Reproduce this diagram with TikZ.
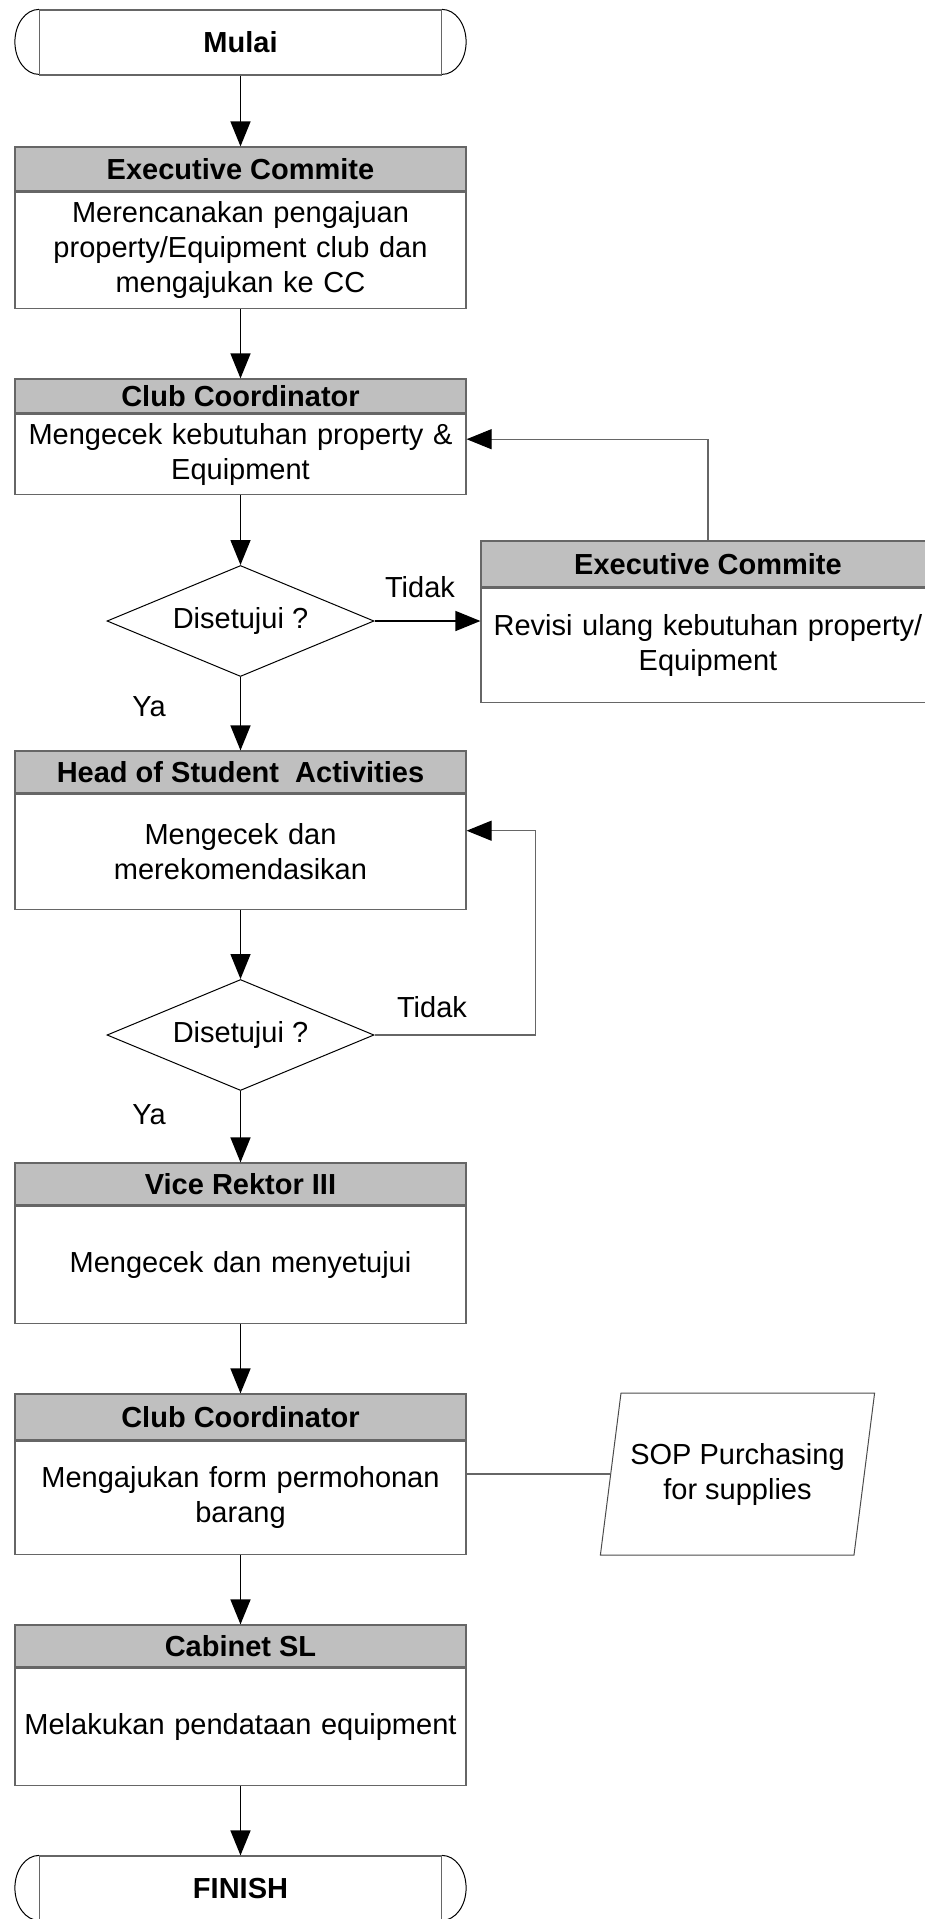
\documentclass[tikz,border=0pt]{standalone}
\usepackage{fontspec}
\setmainfont{Liberation Sans}
\usetikzlibrary{shapes.geometric,arrows.meta,positioning}

\newcommand\chartfont{\fontsize{29}{35}\selectfont}

\tikzset{
  every node/.style={font=\chartfont},
  hdr/.style={draw=black!60, fill=black!25, line width=1.2pt,
    minimum width=451pt, inner sep=0pt, font=\chartfont\bfseries},
  bodybox/.style={draw=black!60, line width=1.2pt, minimum width=451pt,
    text width=451pt, align=center, inner sep=0pt},
  term/.style={draw=black!60, line width=1.2pt, minimum width=402pt,
    minimum height=65pt, font=\chartfont\bfseries},
  termend/.style={draw=black, line width=1pt},
  decision/.style={diamond, draw, line width=1pt, aspect=2.4,
    minimum width=267pt, minimum height=111pt, inner sep=1pt},
  docin/.style={trapezium, draw=black!70, line width=1pt,
    trapezium left angle=73, trapezium right angle=107,
    trapezium stretches=true, minimum width=275pt, minimum height=162pt,
    align=center, inner sep=0pt},
  flow/.style={-{Triangle[length=25pt,width=20pt]}, line width=1.5pt},
  back/.style={-{Triangle[length=25pt,width=20pt,black]}, draw=black!60, line width=1.2pt},
  link/.style={draw=black!60, line width=1.2pt}
}

\begin{document}
\begin{tikzpicture}[x=1pt,y=-1pt]
\useasboundingbox (0,0) rectangle (924,1919);

% start / end
\node [term] (mulai)  at (240.5,42.5)   {Mulai};
\node [term] (finish) at (240.5,1888.5) {FINISH};
\foreach \t in {mulai,finish} {
  \draw [termend] (\t.north west) arc[start angle=90,end angle=270,x radius=24pt,y radius=32.5pt];
  \draw [termend] (\t.north east) arc[start angle=90,end angle=-90,x radius=24pt,y radius=32.5pt];
}

% main column
\node [hdr, minimum height=44pt] (ec1h) at (240.5,169) {Executive Commite};
\node [bodybox, minimum height=116pt, below=0pt of ec1h] (ec1b)
    {Merencanakan pengajuan\\ property/Equipment club dan\\ mengajukan ke CC};

\node [hdr, minimum height=34pt] (cc1h) at (240.5,396) {Club Coordinator};
\node [bodybox, minimum height=80pt, below=0pt of cc1h] (cc1b)
    {Mengecek kebutuhan property \&\\ Equipment};

\node [decision] (dec1) at (240.5,621) {Disetujui ?};

\node [hdr, minimum width=454pt, minimum height=46pt] (ec2h) at (708,564) {Executive Commite};
\node [bodybox, minimum width=454pt, text width=454pt, minimum height=114pt, below=0pt of ec2h] (ec2b)
    {Revisi ulang kebutuhan property/\\ Equipment};

\node [hdr, minimum height=42pt] (hsah) at (240.5,772) {Head of Student~ Activities};
\node [bodybox, minimum height=115pt, below=0pt of hsah] (hsab)
    {Mengecek dan\\ merekomendasikan};

\node [decision] (dec2) at (240.5,1035) {Disetujui ?};

\node [hdr, minimum height=42pt] (vrh) at (240.5,1184) {Vice Rektor III};
\node [bodybox, minimum height=117pt, below=0pt of vrh] (vrb)
    {Mengecek dan menyetujui};

\node [hdr, minimum height=46pt] (cc2h) at (240.5,1417) {Club Coordinator};
\node [bodybox, minimum height=113pt, below=0pt of cc2h] (cc2b)
    {Mengajukan form permohonan\\ barang};

\node [docin] (sop) at (737.5,1474) {SOP Purchasing\\ for supplies};

\node [hdr, minimum height=42pt] (cabh) at (240.5,1646) {Cabinet SL};
\node [bodybox, minimum height=117pt, below=0pt of cabh] (cabb)
    {Melakukan pendataan equipment};

% labels
\node (tidak1) at (420,587)  {Tidak};
\node (tidak2) at (432,1007) {Tidak};
\node (ya1)    at (149,707)  {Ya};
\node (ya2)    at (149,1115) {Ya};

% connectors
\draw [flow] (mulai) -- (ec1h);
\draw [flow] (ec1b) -- (cc1h);
\draw [flow] (cc1b) -- (dec1);
\draw [flow] (dec1.east) -- (dec1.east -| ec2b.west);
\draw [back] (ec2h.north) |- ([yshift=15pt]cc1b.east);
\draw [flow] (dec1) -- (hsah);
\draw [flow] (hsab) -- (dec2);
\draw [back] (dec2.east) -- ++(161,0) |- ([yshift=21pt]hsab.east);
\draw [flow] (dec2) -- (vrh);
\draw [flow] (vrb) -- (cc2h);
\draw [link] (cc2b.east |- sop.west) -- (sop.west);
\draw [flow] (cc2b) -- (cabh);
\draw [flow] (cabb) -- (finish);
\end{tikzpicture}
\end{document}
